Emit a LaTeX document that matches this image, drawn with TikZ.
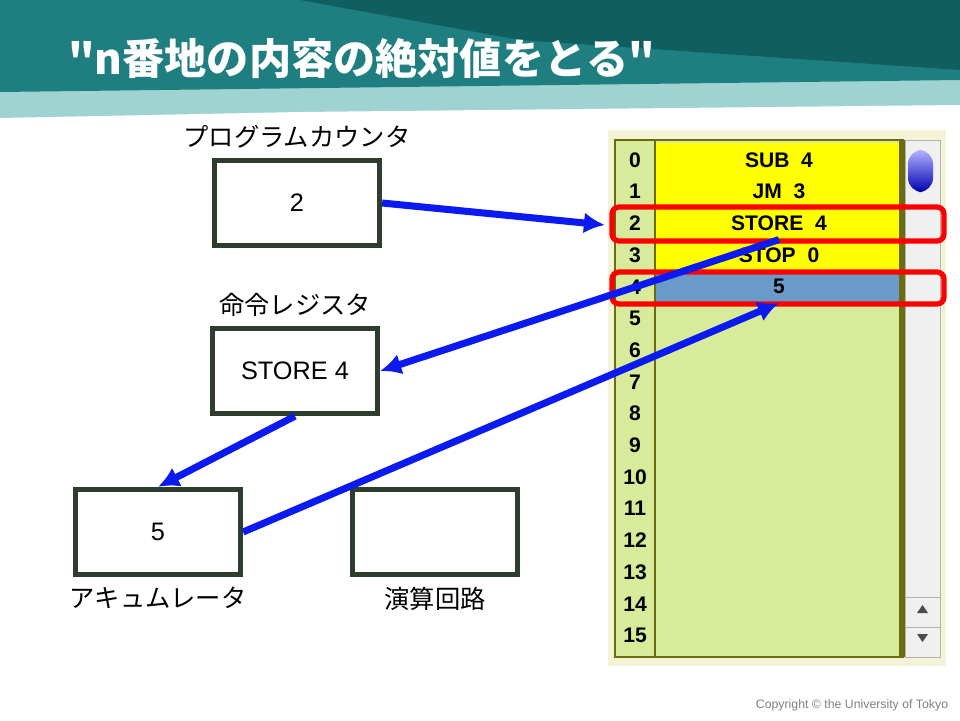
\documentclass[tikz,border=0pt]{standalone}
\usepackage{fontspec}
\setmainfont{Liberation Sans}
\newfontfamily\jp{Noto Sans CJK JP}
\usetikzlibrary{positioning,arrows.meta}
\definecolor{teal1}{HTML}{1F7F80}
\definecolor{teal2}{HTML}{0F5F60}
\definecolor{teallt}{HTML}{9FD3D2}
\definecolor{boxline}{HTML}{2E3E2E}
\definecolor{memyel}{HTML}{FFFF00}
\definecolor{memgrn}{HTML}{D7EB9B}
\definecolor{memblu}{HTML}{6A9AC8}
\definecolor{panelbg}{HTML}{F5F3D6}
\definecolor{olive}{HTML}{6B6B10}
\definecolor{arrowblue}{HTML}{0A1AF0}
\tikzset{
  regbox/.style={draw=boxline,line width=3pt,minimum width=3.3cm,minimum height=1.7cm,font=\Large},
  reglabel/.style={font=\jp\Large},
  memrow/.style={minimum width=4.96cm,minimum height=0.634cm,inner sep=0pt,font=\bfseries\large},
  addr/.style={minimum width=0.8cm,minimum height=0.634cm,inner sep=0pt,font=\bfseries\large},
  redmark/.style={draw=red,line width=3pt,rounded corners=4pt},
  flow/.style={draw=arrowblue,line width=4pt,-{Latex[length=12pt,width=12pt]}}
}
\begin{document}
\begin{tikzpicture}[x=0.02cm,y=-0.02cm]
  \useasboundingbox (0,0) rectangle (960,720);
  % header
  \fill[teallt] (0,0) rectangle (960,118);
  \fill[teal1] (0,0) -- (960,0) -- (960,80) -- (0,92) -- cycle;
  \fill[teal2] (300,0) -- (960,0) -- (960,70) -- (520,40) -- cycle;
  \fill[white] (0,118) -- (300,112) -- (960,105) -- (960,720) -- (0,720) -- cycle;
  \node[anchor=west,text=white,font=\jp\bfseries\fontsize{24}{28}\selectfont] (title) at (62,58) {"n番地の内容の絶対値をとる"};
  % registers
  \node[regbox] (pc) at (297,203) {2};
  \node[reglabel,above=2pt of pc] (pclabel) {プログラムカウンタ};
  \node[regbox] (ir) at (295,371) {STORE 4};
  \node[reglabel,above=2pt of ir] (irlabel) {命令レジスタ};
  \node[regbox] (acc) at (158,532) {5};
  \node[reglabel,below=2pt of acc] (acclabel) {アキュムレータ};
  \node[regbox] (alu) at (435,532) {};
  \node[reglabel,below=2pt of alu] (alulabel) {演算回路};
  % memory panel
  \fill[panelbg] (608,130) rectangle (946,666);
  \fill[memgrn] (615,140) rectangle (903,657);
  \fill[memyel] (655,143) rectangle (903,272);
  \fill[memblu] (655,273) rectangle (903,302);
  \draw[olive,line width=1.5pt] (615,140) rectangle (903,657);
  \draw[olive,line width=1.5pt] (655,140) -- (655,657);
  \draw[olive,line width=4pt] (903,140) -- (903,657);
  \foreach \i/\t in {0/SUB\ \ 4,1/JM\ \ 3,2/STORE\ \ 4,3/STOP\ \ 0,4/5,5/,6/,7/,8/,9/,10/,11/,12/,13/,14/,15/} {
    \node[memrow] (m\i) at (779,160+31.7*\i) {\t};
    \node[addr] (a\i) at (635,160+31.7*\i) {\i};
  }
  % scrollbar
  \fill[gray!12] (905,140) rectangle (940,657);
  \draw[gray!60] (905,140) rectangle (940,657);
  \shade[top color=blue!30,bottom color=blue!70!black,rounded corners=8pt] (908,150) rectangle (933,192);
  \draw[gray!60] (905,597) -- (940,597) (905,627) -- (940,627);
  \fill[black!70] (917,613) -- (928,613) -- (922.5,605) -- cycle;
  \fill[black!70] (917,634) -- (928,634) -- (922.5,642) -- cycle;
  % highlighted rows
  \draw[redmark] (612,207) rectangle (944,241);
  \draw[redmark] (612,272) rectangle (944,304);
  % data flow
  \coordinate (m2in) at (605,225);
  \draw[flow] (pc.east) -- (m2in);
  \draw[flow] (m2.south) -- (ir.east);
  \draw[flow] (ir.south) -- (acc.north);
  \draw[flow] (acc.east) -- (m4.south);
  \node[text=gray,font=\scriptsize] (copy) at (852,705) {Copyright © the University of Tokyo};
\end{tikzpicture}
\end{document}
